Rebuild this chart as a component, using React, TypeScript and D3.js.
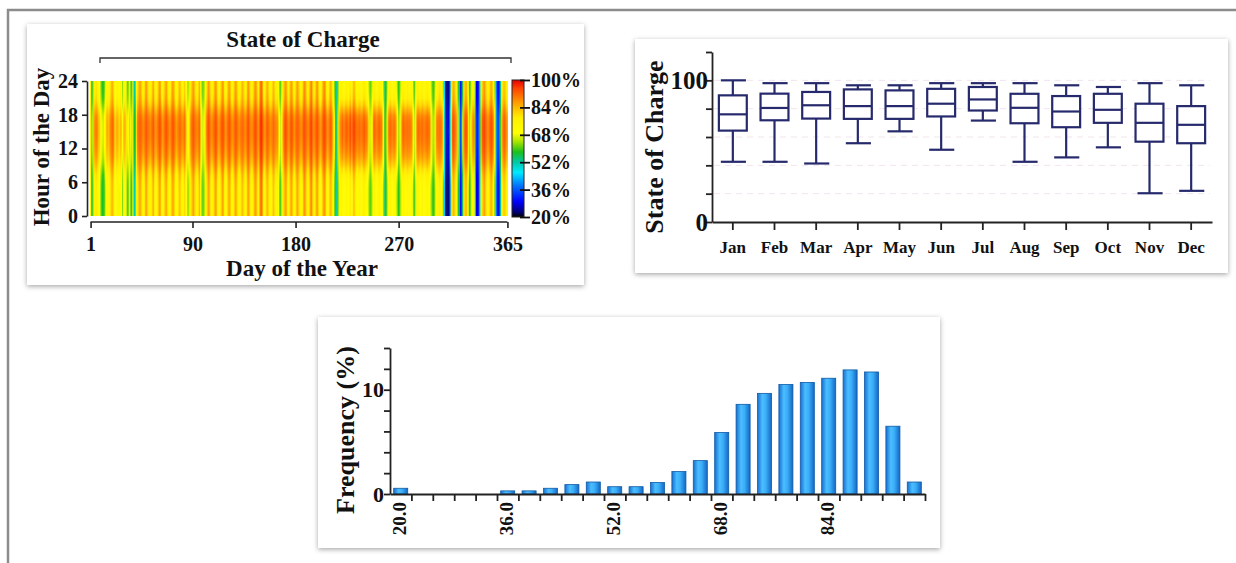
import React, { useEffect, useRef } from 'react';
import * as d3 from 'd3';

const FONT = '"Liberation Serif", "Times New Roman", serif';

// ---------- heatmap data (state of charge, %) ----------
// relative weight of the midday value for each hour 0..23
const hourShape = [0.05, 0.02, 0, 0, 0, 0.02, 0.08, 0.2, 0.4, 0.6, 0.75, 0.85, 0.92, 0.97, 1, 1, 0.98, 0.9, 0.7, 0.45, 0.25, 0.15, 0.1, 0.08];

// night-time SoC for each day of the year
const nightSoc = [
  70, 56, 60, 74, 76, 78, 74, 72, 70, 62,
  58, 56, 60, 66, 72, 74, 72, 76, 82, 84,
  80, 72, 70, 74, 72, 68, 72, 70, 62, 72,
  74, 70, 60, 62, 72, 62, 58, 70, 52, 48,
  68, 78, 82, 86, 84, 76, 72, 78, 84, 86,
  80, 74, 72, 76, 82, 84, 78, 72, 74, 80,
  86, 84, 76, 72, 78, 82, 86, 80, 74, 72,
  76, 84, 86, 82, 74, 70, 74, 80, 84, 78,
  72, 74, 80, 76, 70, 62, 66, 74, 80, 84,
  86, 82, 76, 72, 78, 84, 74, 64, 60, 62,
  68, 76, 82, 86, 84, 78, 72, 76, 82, 86,
  84, 78, 72, 74, 80, 86, 84, 76, 72, 76,
  82, 86, 82, 74, 72, 78, 84, 86, 80, 74,
  72, 76, 82, 84, 78, 72, 76, 84, 86, 82,
  74, 72, 78, 84, 86, 84, 78, 74, 88, 92,
  86, 76, 72, 78, 84, 82, 76, 72, 74, 80,
  84, 78, 72, 76, 70, 62, 60, 66, 74, 82,
  86, 84, 78, 74, 80, 86, 84, 76, 72, 78,
  84, 86, 80, 74, 72, 78, 84, 88, 84, 76,
  72, 80, 86, 88, 82, 74, 76, 84, 86, 80,
  74, 72, 78, 84, 88, 84, 76, 72, 76, 82,
  84, 76, 70, 62, 54, 52, 60, 68, 72, 74,
  72, 70, 72, 74, 72, 70, 74, 76, 72, 78,
  84, 78, 72, 70, 72, 74, 72, 70, 74, 76,
  72, 70, 68, 64, 60, 62, 66, 72, 74, 72,
  70, 72, 74, 72, 70, 68, 62, 54, 56, 64,
  70, 72, 74, 72, 70, 72, 70, 66, 62, 58,
  60, 66, 72, 74, 72, 70, 72, 74, 72, 70,
  72, 68, 62, 60, 66, 72, 74, 72, 70, 72,
  74, 72, 70, 72, 74, 72, 70, 66, 62, 58,
  60, 66, 72, 74, 76, 78, 74, 72, 62, 44,
  30, 22, 22, 26, 40, 66, 80, 84, 82, 76,
  70, 58, 42, 30, 34, 56, 74, 82, 84, 76,
  66, 58, 62, 70, 76, 72, 50, 28, 24, 30,
  48, 70, 80, 84, 86, 82, 78, 72, 76, 82,
  84, 80, 74, 62, 44, 30, 28, 34, 52, 70,
  78, 82, 80, 74, 72,
];

// midday SoC for each day of the year
const peakSoc = [
  76, 62, 66, 86, 89, 90, 88, 84, 82, 72,
  68, 66, 70, 78, 84, 86, 84, 88, 90, 92,
  90, 84, 82, 86, 84, 80, 84, 82, 70, 84,
  86, 80, 68, 70, 82, 68, 66, 80, 58, 56,
  80, 90, 92, 94, 92, 90, 88, 90, 92, 94,
  92, 90, 88, 90, 92, 93, 90, 88, 89, 91,
  94, 93, 90, 88, 90, 92, 94, 92, 90, 88,
  90, 93, 94, 92, 89, 87, 89, 91, 93, 90,
  88, 89, 91, 88, 80, 70, 74, 86, 90, 92,
  94, 92, 90, 88, 90, 92, 84, 72, 66, 68,
  76, 88, 92, 94, 93, 90, 88, 90, 92, 94,
  93, 90, 88, 89, 92, 94, 93, 90, 88, 90,
  92, 94, 92, 89, 88, 90, 93, 94, 91, 89,
  88, 90, 92, 93, 90, 88, 90, 93, 94, 92,
  89, 88, 90, 93, 94, 93, 90, 88, 95, 97,
  94, 90, 88, 90, 93, 92, 90, 88, 89, 91,
  93, 90, 88, 89, 82, 70, 66, 74, 86, 92,
  94, 93, 90, 89, 91, 94, 93, 90, 88, 90,
  93, 94, 91, 89, 88, 90, 93, 95, 93, 90,
  88, 91, 94, 95, 92, 89, 90, 93, 94, 91,
  89, 88, 90, 93, 95, 93, 90, 88, 90, 92,
  93, 88, 80, 68, 56, 54, 66, 82, 88, 90,
  92, 90, 91, 93, 92, 90, 92, 94, 91, 94,
  96, 93, 91, 90, 91, 92, 91, 90, 92, 93,
  91, 90, 88, 80, 66, 68, 78, 90, 92, 91,
  90, 91, 92, 91, 90, 84, 74, 58, 62, 76,
  88, 91, 92, 91, 90, 91, 90, 84, 74, 64,
  66, 78, 90, 92, 91, 90, 91, 92, 91, 90,
  90, 84, 72, 66, 78, 90, 92, 91, 90, 91,
  92, 91, 90, 91, 92, 91, 90, 84, 74, 64,
  66, 78, 88, 90, 91, 92, 90, 88, 76, 50,
  34, 26, 26, 30, 48, 80, 92, 94, 93, 90,
  84, 66, 48, 36, 40, 66, 88, 93, 94, 90,
  78, 64, 68, 82, 90, 86, 58, 34, 30, 36,
  56, 84, 92, 94, 95, 93, 91, 88, 90, 93,
  94, 92, 88, 72, 50, 36, 34, 40, 60, 84,
  90, 93, 92, 88, 86,
];

const dayTicks = [1, 90, 180, 270, 365];
const hourTicks = [0, 6, 12, 18, 24];
const colorbarTicks = [20, 36, 52, 68, 84, 100];
const jetStops = [20, 23, 29, 38, 46, 52, 58, 64, 69, 78, 84, 89, 95, 100];
const jetColors = ['#000000', '#00007a', '#0000ff', '#0070ff', '#00eaff', '#00c8a8', '#1cc01c', '#a8e400', '#ffff00', '#ffee00', '#ffba00', '#ff8400', '#ff4400', '#e40000'];

// ---------- monthly box plot ----------
const months = ['Jan', 'Feb', 'Mar', 'Apr', 'May', 'Jun', 'Jul', 'Aug', 'Sep', 'Oct', 'Nov', 'Dec'];
const boxMin = [42.5, 42.5, 41.3, 55.6, 64, 51, 71.6, 42.5, 45.6, 52.7, 20.3, 22];
const boxQ1 = [64.5, 71.8, 73, 72.8, 72.8, 74.5, 78.7, 69.7, 66.9, 70, 56.7, 55.6];
const boxMedian = [76, 80.5, 82.4, 81.8, 81.8, 83.5, 86.5, 80.6, 78, 79.2, 70, 68.6];
const boxQ3 = [89.4, 90.6, 91.8, 93.6, 92.9, 94, 95.3, 90.5, 88.9, 90.5, 83.5, 81.8];
const boxMax = [100, 98, 98, 96.5, 96.5, 98, 98, 98, 96.5, 95.3, 98, 96.5];
const boxTicks = [0, 20, 40, 60, 80, 100, 120];
const boxLabels = [0, 100];

// ---------- SoC histogram ----------
const binStarts = [20.0, 23.2, 26.4, 29.6, 32.8, 36.0, 39.2, 42.4, 45.6, 48.8, 52.0, 55.2, 58.4, 61.6, 64.8, 68.0, 71.2, 74.4, 77.6, 80.8, 84.0, 87.2, 90.4, 93.6, 96.8];
const binFreq = [0.55, 0, 0, 0, 0, 0.3, 0.3, 0.55, 0.9, 1.15, 0.7, 0.7, 1.1, 2.15, 3.2, 5.9, 8.6, 9.65, 10.5, 10.7, 11.1, 11.9, 11.7, 6.5, 1.15];
const binLabels = [20.0, 36.0, 52.0, 68.0, 84.0];
const freqTicks = [0, 2, 4, 6, 8, 10, 12, 14];
const freqLabels = [0, 10];

const styleText = (sel) => sel.attr('font-family', FONT).attr('font-weight', 'bold').attr('fill', '#111');

const Heatmap = () => {
  const ref = useRef(null);

  useEffect(() => {
    const g = d3.select(ref.current);
    g.selectAll('*').remove();

    const x = d3.scaleLinear().domain([0.5, 365.5]).range([90, 508]);
    const y = d3.scaleLinear().domain([0, 24]).range([216, 81]);
    const color = d3.scaleLinear().domain(jetStops).range(jetColors).clamp(true);

    const days = nightSoc.map((n, i) => ({ day: i + 1, night: n, peak: peakSoc[i] }));

    // one vertical gradient per day column
    const defs = g.append('defs');
    const grads = defs.selectAll('linearGradient')
      .data(days)
      .join('linearGradient')
      .attr('id', d => `soc-day-${d.day}`)
      .attr('x1', 0).attr('x2', 0).attr('y1', 0).attr('y2', 1);
    grads.selectAll('stop')
      .data(d => hourShape.map((w, h) => ({ h, v: d.night + (d.peak - d.night) * w })).reverse())
      .join('stop')
      .attr('offset', s => 1 - (s.h + 0.5) / 24)
      .attr('stop-color', s => color(s.v));

    const bar = defs.append('linearGradient')
      .attr('id', 'soc-colorbar')
      .attr('x1', 0).attr('x2', 0).attr('y1', 1).attr('y2', 0);
    bar.selectAll('stop')
      .data(jetStops)
      .join('stop')
      .attr('offset', d => (d - 20) / 80)
      .attr('stop-color', (d, i) => jetColors[i]);

    // soften the stripes a little, like the original raster
    defs.append('clipPath').attr('id', 'soc-clip')
      .append('rect')
      .attr('x', x(0.5)).attr('y', y(24))
      .attr('width', x(365.5) - x(0.5)).attr('height', y(0) - y(24));
    defs.append('filter').attr('id', 'soc-soft')
      .attr('x', '-2%').attr('y', '-2%').attr('width', '104%').attr('height', '104%')
      .append('feGaussianBlur').attr('stdDeviation', '0.6 0.5');

    g.append('g')
      .attr('clip-path', 'url(#soc-clip)')
      .append('g')
      .attr('filter', 'url(#soc-soft)')
      .selectAll('rect')
      .data(days)
      .join('rect')
      .attr('x', d => x(d.day - (d.day === 1 ? 2 : 0.5)))
      .attr('y', y(24) - 3)
      .attr('width', d => x(d.day + (d.day === 365 ? 2 : 0.5)) - x(d.day - (d.day === 1 ? 2 : 0.5)) + 0.5)
      .attr('height', y(0) - y(24) + 6)
      .attr('fill', d => `url(#soc-day-${d.day})`);

    // title and bracket
    g.append('text')
      .attr('x', 303).attr('y', 47)
      .attr('text-anchor', 'middle')
      .attr('font-size', 23)
      .text('State of Charge')
      .call(styleText);
    g.append('path')
      .attr('d', 'M100,63 V58 H511 V63')
      .attr('fill', 'none')
      .attr('stroke', '#333')
      .attr('stroke-width', 1.3);

    // y axis
    const yAxis = g.append('g')
      .attr('transform', 'translate(87,0)')
      .call(d3.axisLeft(y).tickValues(hourTicks).tickSize(5).tickSizeOuter(0));
    yAxis.selectAll('path, line').attr('stroke', '#222').attr('stroke-width', 1.6);
    yAxis.selectAll('text').attr('font-size', 20).attr('dx', '-1').call(styleText);

    // x axis
    const xAxis = g.append('g')
      .attr('transform', 'translate(0,222)')
      .call(d3.axisBottom(x).tickValues(dayTicks).tickSize(6).tickSizeOuter(0));
    xAxis.select('.domain').attr('d', `M${x(1)},0H${x(365)}`);
    xAxis.selectAll('path, line').attr('stroke', '#222').attr('stroke-width', 1.6);
    xAxis.selectAll('text').attr('font-size', 20).attr('dy', '1.0em').call(styleText);

    g.append('text')
      .attr('transform', 'translate(49,147) rotate(-90)')
      .attr('text-anchor', 'middle')
      .attr('font-size', 23)
      .text('Hour of the Day')
      .call(styleText);
    g.append('text')
      .attr('x', 302).attr('y', 276)
      .attr('text-anchor', 'middle')
      .attr('font-size', 23)
      .text('Day of the Year')
      .call(styleText);

    // colour bar
    const cb = d3.scaleLinear().domain([20, 100]).range([217, 80]);
    g.append('rect')
      .attr('x', 512).attr('y', cb(100))
      .attr('width', 12).attr('height', cb(20) - cb(100))
      .attr('fill', 'url(#soc-colorbar)')
      .attr('stroke', '#222')
      .attr('stroke-width', 1);
    const cbAxis = g.append('g')
      .attr('transform', 'translate(524,0)')
      .call(d3.axisRight(cb).tickValues(colorbarTicks).tickSize(6).tickSizeOuter(0).tickFormat(d => `${d}%`));
    cbAxis.select('.domain').remove();
    cbAxis.selectAll('line').attr('stroke', '#111').attr('stroke-width', 1.8).attr('x1', -4);
    cbAxis.selectAll('text').attr('font-size', 20).attr('x', 7).call(styleText);
  }, []);

  return <g ref={ref} />;
};

const BoxPanel = () => {
  const ref = useRef(null);

  useEffect(() => {
    const g = d3.select(ref.current);
    g.selectAll('*').remove();

    const x = d3.scaleBand().domain(months).range([712, 1212]).paddingInner(0.33).paddingOuter(0.165);
    const y = d3.scaleLinear().domain([0, 120]).range([222, 52]);
    const stroke = '#262a6c';

    // faint dotted grid
    g.append('g')
      .selectAll('line')
      .data(boxTicks.filter(t => t > 0 && t < 120))
      .join('line')
      .attr('x1', 714).attr('x2', 1210)
      .attr('y1', d => y(d)).attr('y2', d => y(d))
      .attr('stroke', '#f1e4ee')
      .attr('stroke-dasharray', '6,5');

    const stats = months.map((m, i) => ({
      m, min: boxMin[i], q1: boxQ1[i], med: boxMedian[i], q3: boxQ3[i], max: boxMax[i],
    }));
    const bw = x.bandwidth();
    const box = g.append('g').selectAll('g').data(stats).join('g')
      .attr('transform', d => `translate(${x(d.m)},0)`)
      .attr('stroke', stroke)
      .attr('stroke-width', 2.2)
      .attr('fill', 'none');
    box.append('line').attr('x1', bw / 2).attr('x2', bw / 2).attr('y1', d => y(d.max)).attr('y2', d => y(d.q3));
    box.append('line').attr('x1', bw / 2).attr('x2', bw / 2).attr('y1', d => y(d.q1)).attr('y2', d => y(d.min));
    box.append('line').attr('x1', bw * 0.07).attr('x2', bw * 0.97).attr('y1', d => y(d.max)).attr('y2', d => y(d.max));
    box.append('line').attr('x1', bw * 0.07).attr('x2', bw * 0.97).attr('y1', d => y(d.min)).attr('y2', d => y(d.min));
    box.append('rect')
      .attr('x', 0).attr('width', bw)
      .attr('y', d => y(d.q3)).attr('height', d => y(d.q1) - y(d.q3))
      .attr('fill', '#fff');
    box.append('line').attr('x1', 0).attr('x2', bw).attr('y1', d => y(d.med)).attr('y2', d => y(d.med));

    const yAxis = g.append('g')
      .attr('transform', 'translate(712,0)')
      .call(d3.axisLeft(y).tickValues(boxTicks).tickSize(6).tickSizeOuter(0)
        .tickFormat(d => (boxLabels.includes(d) ? String(d) : '')));
    yAxis.selectAll('path, line').attr('stroke', '#222').attr('stroke-width', 1.8);
    yAxis.selectAll('text').attr('font-size', 25).attr('x', -4).call(styleText);

    const xAxis = g.append('g')
      .attr('transform', 'translate(0,222)')
      .call(d3.axisBottom(x).tickSize(8).tickSizeOuter(0));
    xAxis.selectAll('path, line').attr('stroke', '#222').attr('stroke-width', 1.8);
    xAxis.selectAll('text').attr('font-size', 17).attr('dy', '1.15em').call(styleText);

    g.append('text')
      .attr('transform', 'translate(663,147) rotate(-90)')
      .attr('text-anchor', 'middle')
      .attr('font-size', 26)
      .text('State of Charge')
      .call(styleText);
  }, []);

  return <g ref={ref} />;
};

const HistPanel = () => {
  const ref = useRef(null);

  useEffect(() => {
    const g = d3.select(ref.current);
    g.selectAll('*').remove();

    const x = d3.scaleLinear().domain([20, 100]).range([390, 925]);
    const y = d3.scaleLinear().domain([0, 14]).range([494, 348]);

    const grad = g.append('defs').append('linearGradient')
      .attr('id', 'hist-bar')
      .attr('x1', 0).attr('x2', 1).attr('y1', 0).attr('y2', 0);
    grad.append('stop').attr('offset', 0).attr('stop-color', '#1670cf');
    grad.append('stop').attr('offset', 0.35).attr('stop-color', '#4cbdff');
    grad.append('stop').attr('offset', 0.6).attr('stop-color', '#3aaef8');
    grad.append('stop').attr('offset', 1).attr('stop-color', '#1466c4');

    const bins = binStarts.map((b, i) => ({ b, f: binFreq[i] })).filter(d => d.f > 0);
    g.append('g')
      .selectAll('rect')
      .data(bins)
      .join('rect')
      .attr('x', d => x(d.b + 0.55))
      .attr('width', x(22.1) - x(20))
      .attr('y', d => y(d.f))
      .attr('height', d => y(0) - y(d.f))
      .attr('fill', 'url(#hist-bar)')
      .attr('stroke', '#0f5aa8')
      .attr('stroke-width', 0.8);

    const yAxis = g.append('g')
      .attr('transform', 'translate(390,0)')
      .call(d3.axisLeft(y).tickValues(freqTicks).tickSize(6).tickSizeOuter(0)
        .tickFormat(d => (freqLabels.includes(d) ? String(d) : '')));
    yAxis.selectAll('path, line').attr('stroke', '#222').attr('stroke-width', 1.8);
    yAxis.selectAll('text').attr('font-size', 22).attr('x', -6).call(styleText);

    const xAxis = g.append('g')
      .attr('transform', 'translate(0,494)')
      .call(d3.axisBottom(x).tickValues(binStarts.slice(1).concat([100])).tickSize(7).tickSizeOuter(0).tickFormat(() => ''));
    xAxis.selectAll('path, line').attr('stroke', '#222').attr('stroke-width', 1.8);

    g.append('g')
      .selectAll('text')
      .data(binLabels)
      .join('text')
      .attr('transform', d => `translate(${x(d + 1.6) + 5},502) rotate(-90)`)
      .attr('text-anchor', 'end')
      .attr('font-size', 19)
      .text(d => d.toFixed(1))
      .call(styleText);

    g.append('text')
      .attr('transform', 'translate(354,430) rotate(-90)')
      .attr('text-anchor', 'middle')
      .attr('font-size', 26)
      .text('Frequency (%)')
      .call(styleText);
  }, []);

  return <g ref={ref} />;
};

export default function App() {
  return (
    <svg
      width={1236}
      height={563}
      style={{ position: 'absolute', left: 0, top: 0, background: '#fff' }}
    >
      <defs>
        <filter id="card-shadow" x="-5%" y="-8%" width="110%" height="118%">
          <feDropShadow dx="0" dy="1.5" stdDeviation="2.5" floodColor="#000" floodOpacity="0.35" />
        </filter>
      </defs>
      <path d="M8,563 V10 H1236" fill="none" stroke="#8c8c8c" strokeWidth={2.5} />
      <rect x={27} y={24} width={557} height={261} fill="#fff" filter="url(#card-shadow)" />
      <rect x={635} y={39} width={593} height={234} fill="#fff" filter="url(#card-shadow)" />
      <rect x={318} y={317} width={622} height={231} fill="#fff" filter="url(#card-shadow)" />
      <Heatmap />
      <BoxPanel />
      <HistPanel />
    </svg>
  );
}
